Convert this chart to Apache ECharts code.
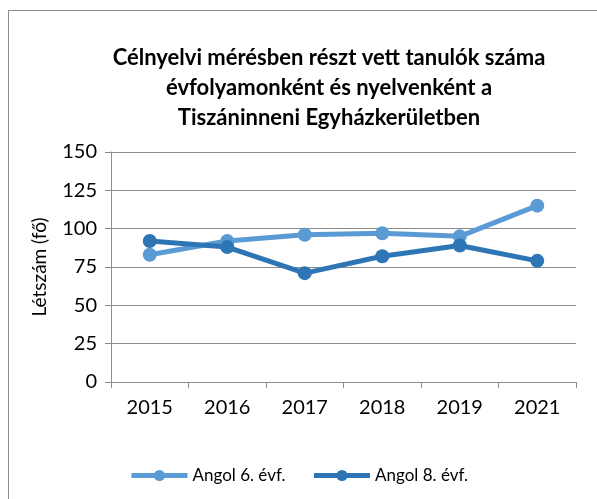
<!DOCTYPE html>
<html>
<head>
<meta charset="utf-8">
<script src="https://cdn.jsdelivr.net/npm/echarts@6/dist/echarts.min.js"></script>
<style>
  body { margin: 0; background: #fff; }
  #frame { position: absolute; left: 8px; top: 10px; width: 600px; height: 494px; border: 1px solid #8c8c8c; }
  #Chart { position: absolute; left: 0; top: 0; width: 597px; height: 499px; }
</style>
</head>
<body>
<div id="frame"></div>
<div id="Chart"></div>
<script>
// évek
const years = ["2015", "2016", "2017", "2018", "2019", "2021"];
// Angol 6. évf.
const angol6 = [83, 92, 96, 97, 95, 115];
// Angol 8. évf.
const angol8 = [92, 88, 71, 82, 89, 79];
const seriesNames = ["Angol 6. évf.", "Angol 8. évf."];

const chart = echarts.init(document.getElementById("Chart"));
const font = "Lato, 'Open Sans', sans-serif";
const option = {
  animation: false,
  textStyle: { fontFamily: font },
  title: {
    text: "Célnyelvi mérésben részt vett tanulók száma\névfolyamonként és nyelvenként a\nTiszáninneni Egyházkerületben",
    left: 324,
    top: 38,
    textAlign: "center",
    textStyle: { fontSize: 22, fontWeight: "bold", color: "#000", lineHeight: 30, fontFamily: font }
  },
  legend: {
    data: seriesNames,
    top: 462,
    left: "center",
    itemWidth: 56,
    itemHeight: 14,
    itemGap: 26,
    lineStyle: { width: 5 },
    textStyle: { fontSize: 17, color: "#000", fontFamily: font }
  },
  grid: { left: 111, right: 21, top: 152, bottom: 117 },
  xAxis: {
    type: "category",
    data: years,
    boundaryGap: true,
    axisLine: { lineStyle: { color: "#8c8c8c", width: 1 } },
    axisTick: { show: true, length: 6, interval: 0, lineStyle: { color: "#8c8c8c" } },
    axisLabel: { fontSize: 20, color: "#000", margin: 16 }
  },
  yAxis: {
    type: "value",
    min: 0,
    max: 150,
    interval: 25,
    name: "Létszám (fő)",
    nameLocation: "middle",
    nameGap: 62,
    nameTextStyle: { fontSize: 19, color: "#000" },
    axisLine: { show: true, lineStyle: { color: "#8c8c8c", width: 1 } },
    axisTick: { show: true, length: 6, lineStyle: { color: "#8c8c8c" } },
    axisLabel: { fontSize: 20, color: "#000", margin: 14 },
    splitLine: { lineStyle: { color: "#8c8c8c", width: 1 } }
  },
  color: ["#5B9BD5", "#2E75B6"],
  series: [
    {
      name: seriesNames[0],
      type: "line",
      data: angol6,
      symbol: "circle",
      symbolSize: 14,
      lineStyle: { width: 5 }
    },
    {
      name: seriesNames[1],
      type: "line",
      data: angol8,
      symbol: "circle",
      symbolSize: 14,
      lineStyle: { width: 5 }
    }
  ]
};
chart.setOption(option);
</script>
</body>
</html>
